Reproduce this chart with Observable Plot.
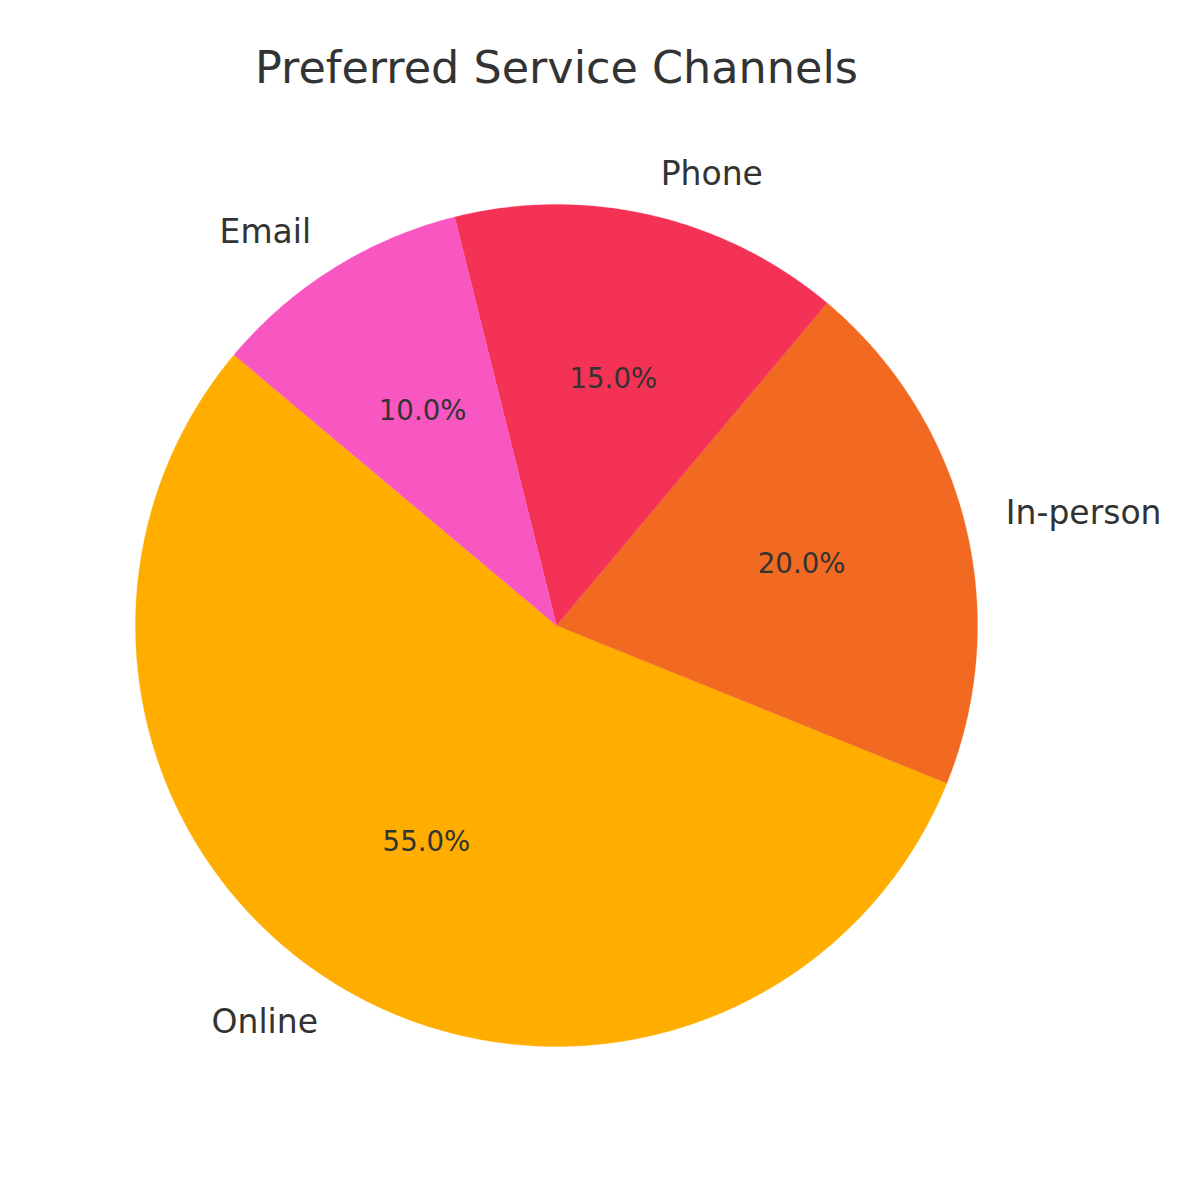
<!DOCTYPE html>
<html>
<head>
<meta charset="utf-8">
<script src="https://cdn.jsdelivr.net/npm/d3@7"></script>
<script src="https://cdn.jsdelivr.net/npm/@observablehq/plot@0.6"></script>
<style>
  html, body { margin: 0; padding: 0; background: #ffffff; }
  #wrap { width: 1200px; height: 1200px; position: relative; overflow: hidden; }
  #title { position: relative; width: 1113px; height: 110px; font-family: "DejaVu Sans", sans-serif; font-size: 44.5px; color: #333333; text-align: center; }
  #title span { position: absolute; left: 0; right: 0; top: 46px; line-height: 1; }
  svg { display: block; }
</style>
</head>
<body>
<div id="wrap">
  <div id="title"><span>Preferred Service Channels</span></div>
  <div id="chart"></div>
</div>
<script>
const channels = ["Online", "In-person", "Phone", "Email"];
const shares = [55, 20, 15, 10];
const colors = ["#FFAE00", "#F26A21", "#F43255", "#F857C1"];
const startAngle = 140;       // degrees, counter-clockwise like matplotlib
const labelDistance = 1.1;
const pctDistance = 0.6;

// Build wedge polygons (unit circle coordinates) from the data
const total = d3.sum(shares);
const wedges = [];
const labels = [];
let a0 = startAngle;
channels.forEach((name, i) => {
  const span = shares[i] / total * 360;
  const a1 = a0 + span;
  const steps = Math.max(8, Math.ceil(span * 2));
  wedges.push({channel: name, x: 0, y: 0});
  for (let k = 0; k <= steps; k++) {
    const a = (a0 + span * k / steps) * Math.PI / 180;
    wedges.push({channel: name, x: Math.cos(a), y: Math.sin(a)});
  }
  wedges.push({channel: name, x: 0, y: 0});
  const mid = ((a0 + a1) / 2) * Math.PI / 180;
  labels.push({
    channel: name,
    pct: (shares[i] / total * 100).toFixed(1) + "%",
    lx: labelDistance * Math.cos(mid),
    ly: labelDistance * Math.sin(mid),
    px: pctDistance * Math.cos(mid),
    py: pctDistance * Math.sin(mid),
    side: Math.cos(mid) < 0 ? "end" : "start"
  });
  a0 = a1;
});

// Layout: 1 unit = R pixels, centered at (cx, cy) within the SVG
const W = 1200, H = 1090, R = 421, cx = 556, cy = 515;
const xDomain = [-cx / R, (W - cx) / R];
const yDomain = [-(H - cy) / R, cy / R];

const font = "DejaVu Sans, sans-serif";
const chart = Plot.plot({
  width: W,
  height: H,
  margin: 0,
  style: {fontFamily: font, background: "#ffffff"},
  x: {domain: xDomain, range: [0, W], axis: null},
  y: {domain: yDomain, range: [H, 0], axis: null},
  color: {domain: channels, range: colors},
  marks: [
    Plot.line(wedges, {x: "x", y: "y", z: "channel", fill: "channel", stroke: "channel", strokeWidth: 0.3, curve: "linear"}),
    Plot.text(labels.filter(d => d.side === "end"), {x: "lx", y: "ly", text: "channel", textAnchor: "end", fontSize: 33, fill: "#333333", fontFamily: font}),
    Plot.text(labels.filter(d => d.side === "start"), {x: "lx", y: "ly", text: "channel", textAnchor: "start", fontSize: 33, fill: "#333333", fontFamily: font}),
    Plot.text(labels, {x: "px", y: "py", text: "pct", textAnchor: "middle", fontSize: 27.6, fill: "#333333", fontFamily: font})
  ]
});
document.getElementById("chart").appendChild(chart);
</script>
</body>
</html>
